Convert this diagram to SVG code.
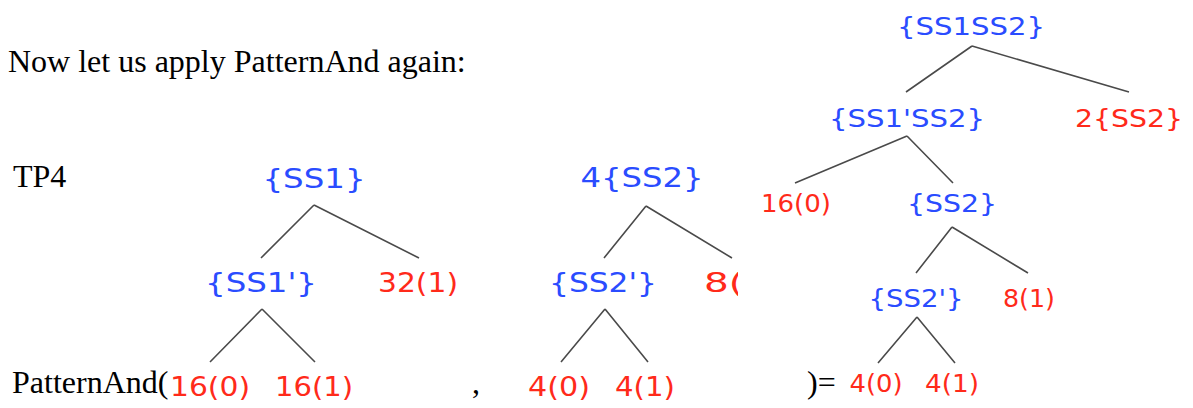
<svg xmlns="http://www.w3.org/2000/svg" width="1193" height="408" viewBox="0 0 1193 408">
<style>
.s{font-family:"Liberation Serif","Times New Roman",serif;font-size:32px;fill:#000}
.b{font-family:"DejaVu Sans",Verdana,sans-serif;fill:#2a4cff;text-anchor:middle}
.r{font-family:"DejaVu Sans",Verdana,sans-serif;fill:#ff2a1a;text-anchor:middle}
.L{font-size:27px}
.M{font-size:24px}
.e{stroke:#4a4a4a;stroke-width:1.6;fill:none}
</style>
<defs>
<clipPath id="clip2"><rect x="0" y="0" width="738" height="408"/></clipPath>
</defs>
<rect width="1193" height="408" fill="#fff"/>
<g id="texts">
<text class="s" x="8" y="72">Now let us apply PatternAnd again:</text>
<text class="s" x="13" y="187">TP4</text>
<text class="s" x="12" y="393">PatternAnd(</text>
<text class="s" x="472" y="393">,</text>
<text class="s" x="807" y="393">)=</text>
</g>
<g id="connectors">
<path class="e" d="M314,205L261,258M314,205L419,258M262,309L210,362M262,309L315,362"/>
<path class="e" d="M646,206L604,258M646,206L732,258M605,309L561,362M605,309L648,362"/>
<path class="e" d="M972,46L906,92M972,46L1129,92M907,136L795,183M907,136L953,183M952,227L916,273M952,227L1028,273M917,317L878,363M917,317L955,363"/>
</g>
<g id="tree1">
<text class="b L" x="314" y="188" textLength="103" lengthAdjust="spacingAndGlyphs">{SS1}</text>
<text class="b L" x="261" y="292" textLength="112" lengthAdjust="spacingAndGlyphs">{SS1'}</text>
<text class="r L" x="418" y="292" textLength="80" lengthAdjust="spacingAndGlyphs">32(1)</text>
<text class="r L" x="210" y="396" textLength="80" lengthAdjust="spacingAndGlyphs">16(0)</text>
<text class="r L" x="314" y="396" textLength="78" lengthAdjust="spacingAndGlyphs">16(1)</text>
</g>
<g id="tree2">
<text class="b L" x="642" y="187" textLength="123" lengthAdjust="spacingAndGlyphs">4{SS2}</text>
<text class="b L" x="603" y="292" textLength="108" lengthAdjust="spacingAndGlyphs">{SS2'}</text>
<text class="r L" x="744" y="292" textLength="80" lengthAdjust="spacingAndGlyphs" clip-path="url(#clip2)">8(1)</text>
<text class="r L" x="559" y="396" textLength="62" lengthAdjust="spacingAndGlyphs">4(0)</text>
<text class="r L" x="645" y="396" textLength="60" lengthAdjust="spacingAndGlyphs">4(1)</text>
</g>
<g id="tree3">
<text class="b M" x="971" y="35" textLength="148" lengthAdjust="spacingAndGlyphs">{SS1SS2}</text>
<text class="b M" x="907" y="127" textLength="156" lengthAdjust="spacingAndGlyphs">{SS1'SS2}</text>
<text class="r M" x="1129" y="127" textLength="108" lengthAdjust="spacingAndGlyphs">2{SS2}</text>
<text class="r M" x="796" y="212" textLength="70" lengthAdjust="spacingAndGlyphs">16(0)</text>
<text class="b M" x="952" y="212" textLength="90" lengthAdjust="spacingAndGlyphs">{SS2}</text>
<text class="b M" x="916" y="307" textLength="95" lengthAdjust="spacingAndGlyphs">{SS2'}</text>
<text class="r M" x="1029" y="307" textLength="52" lengthAdjust="spacingAndGlyphs">8(1)</text>
<text class="r M" x="876" y="392" textLength="53" lengthAdjust="spacingAndGlyphs">4(0)</text>
<text class="r M" x="952" y="392" textLength="54" lengthAdjust="spacingAndGlyphs">4(1)</text>
</g>
</svg>
